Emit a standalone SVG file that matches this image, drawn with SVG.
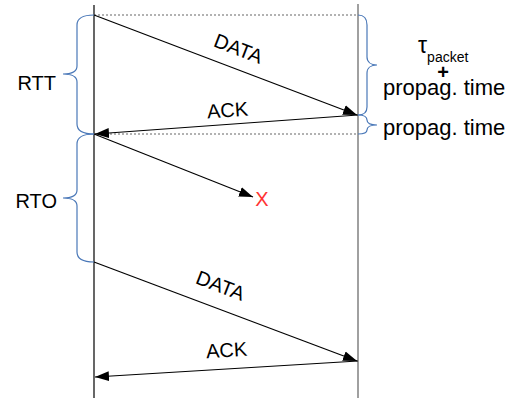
<svg xmlns="http://www.w3.org/2000/svg" width="510" height="400" viewBox="0 0 510 400">
  <style>
    .lbl { font-family: "Liberation Sans", Arial, Helvetica, sans-serif; fill: #000; }
    .brace { fill: none; stroke: #4a78b8; stroke-width: 1.2; }
    .msg { fill: none; stroke: #000; stroke-width: 1.2; }
    .guide { fill: none; stroke: #666; stroke-width: 1.2; stroke-dasharray: 2 2; }
  </style>
  <defs>
    <marker id="arrow" markerUnits="userSpaceOnUse" markerWidth="15" markerHeight="11" refX="14" refY="5.5" orient="auto">
      <path d="M0,0.5 L14,5.5 L0,10.5 Z" fill="#000"/>
    </marker>
  </defs>
  <rect width="510" height="400" fill="#fff"/>

  <!-- timelines: sender (left), receiver (right) -->
  <g id="sender">
    <line x1="94" y1="5" x2="94" y2="398" stroke="#000" stroke-width="1.2"/>
  </g>
  <g id="receiver">
    <line x1="358" y1="4" x2="358" y2="398" stroke="#808080" stroke-width="1.5"/>
  </g>

  <!-- dotted time references -->
  <g id="guides">
    <line class="guide" x1="94" y1="15" x2="358" y2="15"/>
    <line class="guide" x1="94" y1="134" x2="358" y2="134"/>
  </g>

  <!-- messages -->
  <g id="connectors">
    <line class="msg" x1="94" y1="15" x2="357" y2="115" marker-end="url(#arrow)"/>
    <line class="msg" x1="358" y1="115" x2="95" y2="134" marker-end="url(#arrow)"/>
    <line class="msg" x1="94" y1="134" x2="253" y2="197" marker-end="url(#arrow)"/>
    <line class="msg" x1="94" y1="262" x2="357" y2="361" marker-end="url(#arrow)"/>
    <line class="msg" x1="358" y1="361" x2="95" y2="377" marker-end="url(#arrow)"/>
  </g>

  <!-- message labels -->
  <g id="label-data-1">
    <text class="lbl" font-size="20" text-anchor="middle" transform="translate(236,55) rotate(21)">DATA</text>
  </g>
  <g id="label-ack-1">
    <text class="lbl" font-size="20" text-anchor="middle" transform="translate(228,117) rotate(-4)">ACK</text>
  </g>
  <g id="label-lost">
    <text font-family="Liberation Sans, Arial, sans-serif" font-size="20" fill="#ff3333" text-anchor="middle" x="262" y="206">X</text>
  </g>
  <g id="label-data-2">
    <text class="lbl" font-size="20" text-anchor="middle" transform="translate(218,292) rotate(21)">DATA</text>
  </g>
  <g id="label-ack-2">
    <text class="lbl" font-size="20" text-anchor="middle" transform="translate(227,357) rotate(-3.5)">ACK</text>
  </g>

  <!-- RTT brace -->
  <g id="rtt">
    <path class="brace" d="M94,15 C84,15 77,18 77,25 V66 C77,71 72,74 63,74 C72,74 77,77 77,82 V124 C77,131 84,134 94,134"/>
    <text class="lbl" font-size="20" text-anchor="end" x="56" y="90">RTT</text>
  </g>

  <!-- RTO brace -->
  <g id="rto">
    <path class="brace" d="M94,134 C84,134 77,137 77,144 V190 C77,195 72,198 63,198 C72,198 77,201 77,206 V252 C77,259 84,262 94,262"/>
    <text class="lbl" font-size="20" text-anchor="end" x="57" y="208">RTO</text>
  </g>

  <!-- packet time + propagation brace -->
  <g id="tx-time">
    <path class="brace" d="M358,15 C364,15 367,18 367,25 V57 C367,62 371,65 377,65 C371,65 367,68 367,73 V107 C367,112 364,115 358,115"/>
    <text class="lbl" font-size="23" x="418" y="53">τ<tspan font-size="14" dy="9">packet</tspan></text>
    <text class="lbl" font-size="20" font-weight="bold" text-anchor="middle" x="443" y="79">+</text>
    <text class="lbl" font-size="22" x="383" y="95">propag. time</text>
  </g>

  <!-- propagation-only brace -->
  <g id="prop-time">
    <path class="brace" d="M358,115 C364,115 367,117 367,120 C367,123 371,125 377,125 C371,125 367,127 367,130 C367,133 364,134 358,134"/>
    <text class="lbl" font-size="22" x="383" y="135">propag. time</text>
  </g>
</svg>
